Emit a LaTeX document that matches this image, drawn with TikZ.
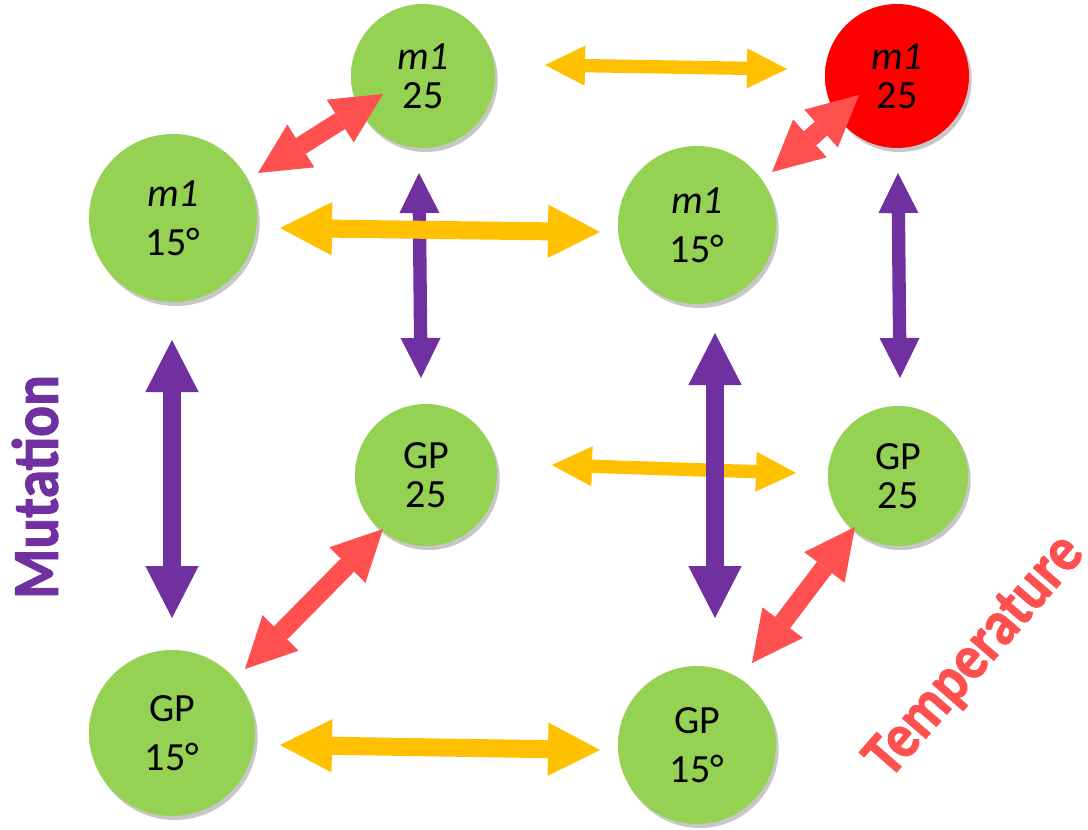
\documentclass[tikz,border=0pt]{standalone}
\usepackage{fontspec}
\setmainfont{Carlito}
\newfontfamily\lblfont{Carlito}[UprightFont=* Bold, FakeBold=1.6]
\usetikzlibrary{arrows.meta,calc,shadows}

\definecolor{gIn}{HTML}{95D254}
\definecolor{gMid}{HTML}{86C444}
\definecolor{gRim}{HTML}{70AA33}
\definecolor{rIn}{HTML}{FF0000}
\definecolor{rMid}{HTML}{F20000}
\definecolor{rRim}{HTML}{C80000}
\definecolor{ora}{HTML}{FFC000}
\definecolor{pur}{HTML}{7030A0}
\definecolor{sal}{HTML}{FF5050}

\pgfdeclareradialshading{greenball}{\pgfpoint{-4bp}{4bp}}{color(0bp)=(gIn); color(36bp)=(gIn); color(48bp)=(gMid); color(54bp)=(gRim)}
\pgfdeclareradialshading{redball}{\pgfpoint{-4bp}{4bp}}{color(0bp)=(rIn); color(36bp)=(rIn); color(48bp)=(rMid); color(54bp)=(rRim)}

\tikzset{
  ball/.style={circle, inner sep=0pt, align=center, shading=greenball,
    drop shadow={shadow xshift=2pt, shadow yshift=-3pt, opacity=0.22, fill=black},
    font=\fontsize{30}{36}\selectfont},
  redballstyle/.style={ball, shading=redball},
  tight/.style={font=\fontsize{30}{29}\selectfont},
  loose/.style={font=\fontsize{30}{37}\selectfont},
  small tips/.style={arrows={Triangle[width=30pt,length=30pt,line width=0pt]-Triangle[width=30pt,length=30pt,line width=0pt]}},
  large tips/.style={arrows={Triangle[width=40pt,length=39pt,line width=0pt]-Triangle[width=40pt,length=39pt,line width=0pt]}},
  red tips/.style={arrows={Triangle[width=38pt,length=38pt,line width=0pt]-Triangle[width=38pt,length=38pt,line width=0pt]}},
  oarrowS/.style={draw=ora, line width=10pt, small tips},
  oarrowL/.style={draw=ora, line width=13.5pt, large tips},
  parrowS/.style={draw=pur, line width=10pt, small tips},
  parrowL/.style={draw=pur, line width=13.5pt, large tips},
  rarrow/.style={draw=sal, line width=14pt, red tips},
  axislabel/.style={font=\fontsize{49}{49}\selectfont\lblfont, inner sep=0pt}
}

\begin{document}
\begin{tikzpicture}[x=0.75pt, y=-0.75pt]
\useasboundingbox (0,0) rectangle (1088,830);

% circles
\node[ball, tight, minimum size=108pt] (mTop) at (423,76) {\textit{m1}\\25};
\node[redballstyle, tight, minimum size=108pt] (mRed) at (897,76) {\textit{m1}\\25};
\node[ball, loose, minimum size=126pt] (mL) at (173,218) {\textit{m1}\\15°};
\node[ball, loose, minimum size=118.5pt] (mR) at (697,225) {\textit{m1}\\15°};
\node[ball, tight, minimum size=106.5pt] (gM) at (426,475) {GP\\25};
\node[ball, tight, minimum size=105pt] (gR) at (898,476) {GP\\25};
\node[ball, loose, minimum size=124.5pt] (gL) at (172,733) {GP\\15°};
\node[ball, loose, minimum size=118.5pt] (gBR) at (697,745) {GP\\15°};

% mutation axis (purple)
\draw[parrowL] ($(mL)+(-1,122)$) -- ($(gL)+(0,-115)$);
\draw[parrowS] ($(mTop)+(-4,97)$) -- ($(gM)+(-5,-97)$);
\draw[parrowS] ($(mRed)+(1,97)$) -- ($(gR)+(2,-98)$);

% second factor (orange)
\draw[oarrowS] ($(mTop)+(122,-11)$) -- ($(mRed)+(-110,-7)$);
\draw[oarrowL] ($(mL)+(107,10)$) -- ($(mR)+(-97,7)$);
\draw[oarrowS] ($(gM)+(126,-10)$) -- ($(gR)+(-102,-3)$);
\draw[oarrowL] ($(gL)+(108,12)$) -- ($(gBR)+(-97,5)$);

% purple arrow crossing in front of the middle orange one
\draw[parrowL] ($(mR)+(18,108)$) -- ($(gBR)+(18,-127)$);

% temperature axis (salmon)
\draw[rarrow] ($(mL)+(85,-45)$) -- ($(mTop)+(-40,18)$);
\draw[rarrow] ($(mR)+(75,-53)$) -- ($(mRed)+(-38,19)$);
\draw[rarrow] ($(gL)+(73,-64)$) -- ($(gM)+(-43,54)$);
\draw[rarrow] ($(gBR)+(55,-82)$) -- ($(gR)+(-43,51)$);

% axis labels
\node[axislabel, text=pur, rotate=90] (mut) at (35,487) {\scalebox{0.88}[1]{Mutation}};
\node[axislabel, text=sal, rotate=49] (temp) at (976,657) {\scalebox{0.86}[0.97]{Temperature}};
\end{tikzpicture}
\end{document}
